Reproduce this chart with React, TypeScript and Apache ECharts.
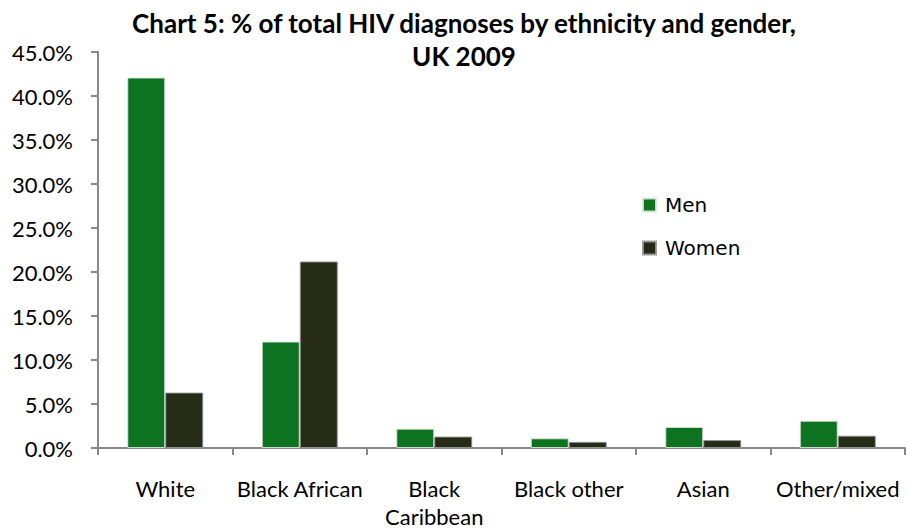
import React, { useEffect, useRef } from "react";
import * as echarts from "echarts";

const categories = ["White", "Black African", "Black\nCaribbean", "Black other", "Asian", "Other/mixed"];
const menValues = [42.1, 12.1, 2.2, 1.1, 2.4, 3.1];
const womenValues = [6.3, 21.2, 1.3, 0.7, 0.9, 1.4];
const seriesNames = ["Men", "Women"];
const titleText = "Chart 5: % of total HIV diagnoses by ethnicity and gender,\nUK 2009";

const FONT = "Lato, 'Open Sans', sans-serif";

export default function App() {
  const ref = useRef<HTMLDivElement>(null);
  useEffect(() => {
    if (!ref.current) return;
    const chart = echarts.init(ref.current, undefined, { renderer: "svg" });
    chart.setOption({
      animation: false,
      backgroundColor: "#ffffff",
      title: {
        text: titleText,
        left: 464,
        top: 6,
        padding: 0,
        textAlign: "center",
        textStyle: {
          fontFamily: FONT,
          fontWeight: "bold",
          fontSize: 26,
          lineHeight: 33,
          color: "#000",
        },
      },
      legend: {
        orient: "vertical",
        left: 637,
        top: 189,
        itemWidth: 13,
        itemHeight: 13,
        itemGap: 21,
        icon: "rect",
        data: seriesNames,
        textStyle: {
          fontFamily: "'DejaVu Sans', sans-serif",
          fontSize: 20,
          color: "#000",
          lineHeight: 22,
          padding: [0, 0, 0, 4],
        },
      },
      grid: { left: 98, right: 2, top: 52, bottom: 76, containLabel: false },
      xAxis: {
        type: "category",
        data: categories,
        axisLine: { lineStyle: { color: "#888", width: 2 } },
        axisTick: { show: true, length: 7, lineStyle: { color: "#888", width: 2 } },
        axisLabel: {
          interval: 0,
          margin: 26,
          fontFamily: FONT,
          fontSize: 22,
          lineHeight: 28,
          color: "#000",
        },
      },
      yAxis: {
        type: "value",
        min: 0,
        max: 45,
        interval: 5,
        splitLine: { show: false },
        axisLine: { show: true, lineStyle: { color: "#888", width: 2 } },
        axisTick: { show: true, length: 7, lineStyle: { color: "#888", width: 2 } },
        axisLabel: {
          margin: 25,
          fontFamily: FONT,
          fontSize: 22,
          color: "#000",
          formatter: (v: number) => v.toFixed(1) + "%",
        },
      },
      series: [
        {
          name: seriesNames[0],
          type: "bar",
          data: menValues,
          barWidth: 38,
          barGap: "0%",
          itemStyle: { color: "#0D7321", borderColor: "rgba(220,230,220,0.9)", borderWidth: 1 },
        },
        {
          name: seriesNames[1],
          type: "bar",
          data: womenValues,
          barWidth: 38,
          barGap: "0%",
          itemStyle: { color: "#262B16", borderColor: "rgba(150,150,150,0.9)", borderWidth: 1 },
        },
      ],
    });
    return () => chart.dispose();
  }, []);
  return (
    <div
      ref={ref}
      style={{ position: "fixed", left: 0, top: 0, width: 907, height: 530 }}
    />
  );
}
